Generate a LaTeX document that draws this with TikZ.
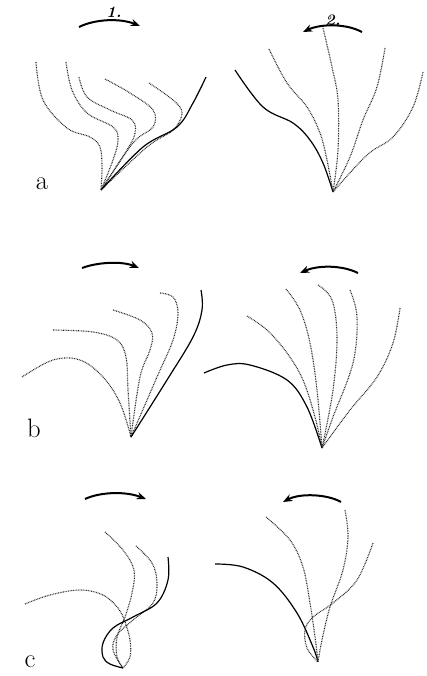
\documentclass[tikz,border=0pt]{standalone}
\usetikzlibrary{arrows.meta}
\begin{document}
\begin{tikzpicture}[x=0.75pt,y=-0.75pt,
  dotc/.style={line width=0.85pt, dash pattern=on 0.6pt off 0.65pt, black!85},
  solidc/.style={line width=0.9pt, black},
  rot/.style={line width=1.5pt, -{Stealth[length=7pt,width=5.5pt]}},
  lbl/.style={font=\fontsize{20}{20}\selectfont, inner sep=0pt},
  num/.style={font=\fontsize{12}{12}\selectfont\bfseries\itshape, inner sep=0pt}]
\useasboundingbox (0,0) rectangle (427,676);
% base points
\coordinate (aL) at (101,190);
\coordinate (aR) at (333,192);
\coordinate (bL) at (131,437);
\coordinate (bR) at (322,448);
\coordinate (cL) at (123,668);
\coordinate (cR) at (318,662);
% labels
\node[lbl] (la) at (42,184) {a};
\node[lbl] (lb) at (34,428) {b};
\node[lbl] (lc) at (30,662) {c};
\node[num] (n1) at (114,12) {1.};
\node[num] (n2) at (333,20) {2.};
% rotation arrows
\draw[rot] (79,27) .. controls (95,19) and (120,18) .. (140,26);
\draw[rot] (362,32) .. controls (345,23) and (320,24) .. (303,32);
\draw[rot] (82,268) .. controls (98,262) and (122,261) .. (139,268);
\draw[rot] (358,273) .. controls (342,265) and (318,265) .. (300,273);
\draw[rot] (85,499) .. controls (100,492) and (125,491) .. (146,499);
\draw[rot] (341,502) .. controls (327,494) and (300,493) .. (283,502);
% panel a left
\draw[dotc] plot[smooth, tension=0.6] coordinates {(36,62) (43,100) (67,128) (90,137) (100,147) (102,167) (aL)};
\draw[dotc] plot[smooth, tension=0.6] coordinates {(66,62) (72,90) (87,113) (113,127) (118,140) (113,160) (aL)};
\draw[dotc] plot[smooth, tension=0.6] coordinates {(79,77) (87,97) (110,110) (132,120) (135,133) (127,150) (aL)};
\draw[dotc] plot[smooth, tension=0.6] coordinates {(105,79) (130,93) (153,110) (153,127) (133,143) (aL)};
\draw[dotc] plot[smooth, tension=0.6] coordinates {(149,83) (173,100) (182,113) (173,130) (147,147) (aL)};
\draw[solidc] plot[smooth, tension=0.6] coordinates {(206,77) (193,103) (177,127) (143,147) (aL)};
% panel a right
\draw[solidc] plot[smooth, tension=0.6] coordinates {(235,70) (263,107) (293,123) (310,140) (323,163) (aR)};
\draw[dotc] plot[smooth, tension=0.6] coordinates {(269,49) (287,83) (307,107) (320,133) (327,160) (aR)};
\draw[dotc] plot[smooth, tension=0.6] coordinates {(323,28) (332,67) (338,100) (338,150) (aR)};
\draw[dotc] plot[smooth, tension=0.6] coordinates {(385,48) (377,87) (363,120) (350,157) (aR)};
\draw[dotc] plot[smooth, tension=0.6] coordinates {(423,72) (413,107) (393,137) (367,155) (aR)};
% panel b left
\draw[dotc] plot[smooth, tension=0.6] coordinates {(22,377) (53,360) (80,360) (103,377) (120,403) (bL)};
\draw[dotc] plot[smooth, tension=0.6] coordinates {(53,330) (93,332) (117,340) (126,357) (128,390) (bL)};
\draw[dotc] plot[smooth, tension=0.6] coordinates {(113,310) (140,320) (152,333) (150,350) (140,377) (bL)};
\draw[dotc] plot[smooth, tension=0.6] coordinates {(160,293) (173,297) (178,313) (173,340) (157,377) (bL)};
\draw[solidc] plot[smooth, tension=0.6] coordinates {(201,290) (202,310) (193,337) (167,380) (bL)};
% panel b right
\draw[solidc] plot[smooth, tension=0.6] coordinates {(204,373) (227,365) (250,365) (287,380) (307,407) (bR)};
\draw[dotc] plot[smooth, tension=0.6] coordinates {(247,316) (267,330) (287,353) (303,380) (315,417) (bR)};
\draw[dotc] plot[smooth, tension=0.6] coordinates {(286,289) (300,310) (310,343) (317,390) (bR)};
\draw[dotc] plot[smooth, tension=0.6] coordinates {(318,285) (332,300) (337,337) (333,390) (bR)};
\draw[dotc] plot[smooth, tension=0.6] coordinates {(350,290) (357,317) (353,363) (333,417) (bR)};
\draw[dotc] plot[smooth, tension=0.6] coordinates {(400,308) (393,343) (377,377) (350,410) (bR)};
% panel c left
\draw[dotc] plot[smooth, tension=0.6] coordinates {(25,604) (50,595) (80,590) (103,595) (118,608) (125,622) (130,640) (130,657) (cL)};
\draw[dotc] plot[smooth, tension=0.6] coordinates {(105,532) (123,550) (134,570) (132,593) (125,617) (117,637) (117,657) (cL)};
\draw[dotc] plot[smooth, tension=0.6] coordinates {(136,546) (152,563) (157,583) (153,603) (133,620) (117,635) (113,650) (cL)};
\draw[solidc] plot[smooth, tension=0.6] coordinates {(168,557) (168,580) (157,603) (133,617) (113,628) (103,643) (103,657) (110,664) (cL)};
% panel c right
\draw[solidc] plot[smooth, tension=0.6] coordinates {(215,564) (243,567) (273,583) (297,613) (313,647) (cR)};
\draw[dotc] plot[smooth, tension=0.6] coordinates {(266,517) (290,540) (303,567) (310,603) (315,637) (cR)};
\draw[dotc] plot[smooth, tension=0.6] coordinates {(345,510) (348,537) (343,570) (330,607) (322,640) (cR)};
\draw[dotc] plot[smooth, tension=0.6] coordinates {(373,543) (357,580) (333,603) (313,617) (305,630) (307,648) (cR)};
\end{tikzpicture}
\end{document}
